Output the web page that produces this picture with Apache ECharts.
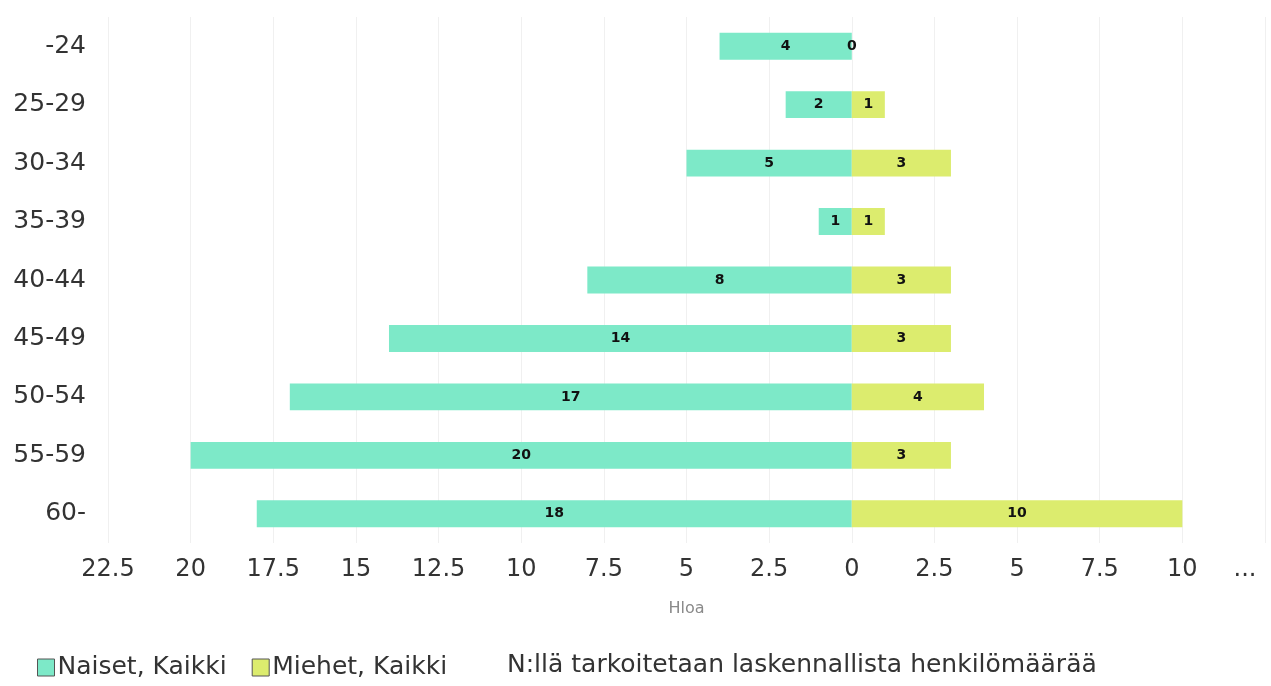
<!DOCTYPE html>
<html>
<head>
<meta charset="utf-8">
<script src="https://cdn.jsdelivr.net/npm/echarts@6/dist/echarts.min.js"></script>
<style>
  html, body { margin: 0; padding: 0; background: #fff; }
  #container { width: 1271px; height: 686px; }
</style>
</head>
<body>
<div id="container"></div>
<script>
    var ageGroups = ['-24', '25-29', '30-34', '35-39', '40-44', '45-49', '50-54', '55-59', '60-'];
    var women = [4, 2, 5, 1, 8, 14, 17, 20, 18];
    var men = [0, 1, 3, 1, 3, 3, 4, 3, 10];
    var xTicks = [-22.5, -20, -17.5, -15, -12.5, -10, -7.5, -5, -2.5, 0, 2.5, 5, 7.5, 10, 12.5];
    var xTickLabels = ['22.5', '20', '17.5', '15', '12.5', '10', '7.5', '5', '2.5', '0', '2.5', '5', '7.5', '10', '...'];

    var dom = document.getElementById('container');
    var myChart = echarts.init(dom, null, { renderer: 'canvas' });
    var font = 'DejaVu Sans';

    var option = {
  textStyle: { fontFamily: font },
  grid: { left: 108, right: 6, top: 17, bottom: 143, outerBoundsMode: 'none' },
  xAxis: {
    type: 'value',
    min: xTicks[0],
    max: xTicks[xTicks.length - 1],
    interval: 2.5,
    name: 'Hloa',
    nameLocation: 'middle',
    nameGap: 58,
    nameTextStyle: { color: '#8a8a8a', fontSize: 16, fontFamily: font },
    axisLine: { show: false },
    axisTick: { show: false },
    splitLine: { lineStyle: { color: '#f0f0f0', width: 1 } },
    axisLabel: {
      color: '#333',
      fontSize: 24,
      margin: 15,
      fontFamily: font,
      formatter: function (v) {
        var i = xTicks.indexOf(v);
        if (i < 0) return '';
        return i === xTicks.length - 1 ? '{e|' + xTickLabels[i] + '}' : xTickLabels[i];
      },
      rich: { e: { fontSize: 24, color: '#333', padding: [0, 40, 0, 0] } }
    }
  },
  yAxis: {
    type: 'category',
    data: ageGroups,
    inverse: true,
    axisLine: { show: false },
    axisTick: { show: false },
    axisLabel: { color: '#333', fontSize: 25, margin: 22, fontFamily: font }
  },
  legend: {
    left: 32,
    top: 650,
    itemWidth: 17,
    itemHeight: 17,
    itemGap: 25,
    icon: 'rect',
    textStyle: { fontSize: 25, color: '#333', fontFamily: font, padding: [0, 0, 0, -2] },
    data: [
      { name: 'Naiset, Kaikki', itemStyle: { borderColor: '#555', borderWidth: 1 } },
      { name: 'Miehet, Kaikki', itemStyle: { borderColor: '#555', borderWidth: 1 } }
    ]
  },
  graphic: [{
    type: 'text',
    left: 507,
    top: 653,
    style: {
      text: 'N:llä tarkoitetaan laskennallista henkilömäärää',
      font: '25px "DejaVu Sans"',
      fill: '#333'
    }
  }],
  series: [
    {
      name: 'Naiset, Kaikki',
      type: 'bar',
      barWidth: '46%',
      barGap: '-100%',
      itemStyle: { color: '#7de9c8' },
      label: {
        show: true,
        position: 'inside',
        color: '#111',
        fontWeight: 'bold',
        fontSize: 14,
        fontFamily: font,
        formatter: function (p) { return Math.abs(p.value); }
      },
      data: women.map(function (v) { return -v; })
    },
    {
      name: 'Miehet, Kaikki',
      type: 'bar',
      barWidth: '46%',
      itemStyle: { color: '#dcec6e' },
      label: {
        show: true,
        position: 'inside',
        color: '#111',
        fontWeight: 'bold',
        fontSize: 14,
        fontFamily: font
      },
      data: men
    }
  ]
};

    myChart.setOption(option);
    window.addEventListener('resize', myChart.resize);
</script>
</body>
</html>
